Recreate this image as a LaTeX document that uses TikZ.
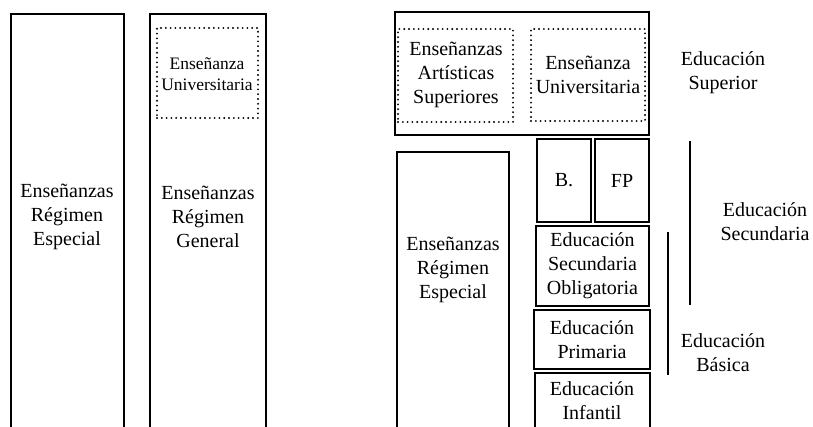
\documentclass[tikz,border=0pt]{standalone}
\usepackage{fontspec}
\setmainfont{Liberation Serif}
\begin{document}
\begin{tikzpicture}[x=1pt,y=-1pt,
  every node/.style={inner sep=0pt,outer sep=0pt},
  txt/.style={align=center,font=\fontsize{20}{24}\selectfont},
  smalltxt/.style={align=center,font=\fontsize{17.5}{21.5}\selectfont},
  solidbox/.style={draw,line width=1.9pt},
  dotbox/.style={draw,line width=2.1pt,line cap=round,dash pattern=on 0pt off 4.8pt},
  bar/.style={line width=1.9pt}]
\useasboundingbox (0,0) rectangle (813,427);
\clip (0,0) rectangle (813,427);

% helper: box from corner to corner
\newcommand{\boxnode}[6]{%
  \node[#1,minimum width={#4-#2},minimum height={#5-#3}] (#6) at ({(#2+#4)/2},{(#3+#5)/2}) {};}

% left pair of columns
\boxnode{solidbox}{11}{14}{124}{470}{colEsp}
\boxnode{solidbox}{150}{14}{266}{470}{colGen}
\boxnode{dotbox}{157}{28}{258}{118}{uniL}
\node[smalltxt] (uniLt) at (207,74) {Enseñanza\\Universitaria};
\node[txt] (colEspt) at (67,217) {Enseñanzas\\Régimen\\Especial};
\node[txt] (colGent) at (208,217) {Enseñanzas\\Régimen\\General};

% higher education block
\boxnode{solidbox}{395}{12}{649}{135}{sup}
\boxnode{dotbox}{398}{29}{513}{122}{art}
\boxnode{dotbox}{531}{29}{645}{121}{uni}
\node[txt] (artt) at (456,75) {Enseñanzas\\Artísticas\\Superiores};
\node[txt] (unit) at (588,75) {Enseñanza\\Universitaria};
\node[txt] (supt) at (723,73) {Educación\\Superior};

% special regime column
\boxnode{solidbox}{397}{152}{509}{470}{esp}
\node[txt] (espt) at (453,270) {Enseñanzas\\Régimen\\Especial};

% general regime stages
\boxnode{solidbox}{537}{139}{591}{222}{bach}
\boxnode{solidbox}{595}{139}{649}{222}{fp}
\boxnode{solidbox}{536}{226}{649}{306}{eso}
\boxnode{solidbox}{534}{310}{650}{369}{prim}
\boxnode{solidbox}{535}{373}{650}{470}{inf}
\node[txt] (bacht) at (bach) {B.};
\node[txt] (fpt) at (fp) {FP};
\node[txt] (esot) at (eso) {Educación\\Secundaria\\Obligatoria};
\node[txt] (primt) at (prim) {Educación\\Primaria};
\node[txt] (inft) at (592,401) {Educación\\Infantil};

% stage brackets
\coordinate (secA) at (690,141);
\coordinate (secB) at (690,305);
\coordinate (basA) at (668,232);
\coordinate (basB) at (668,375);
\draw[bar] (secA) -- (secB);
\draw[bar] (basA) -- (basB);
\node[txt] (sect) at (765,222) {Educación\\Secundaria};
\node[txt] (bast) at (723,353) {Educación\\Básica};
\end{tikzpicture}
\end{document}
